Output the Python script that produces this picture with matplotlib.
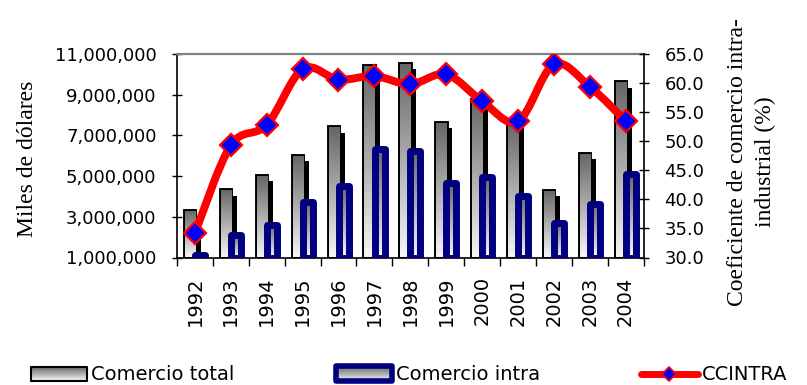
import numpy as np
import matplotlib
matplotlib.use("Agg")
import matplotlib.pyplot as plt
import matplotlib.patheffects as pe
from matplotlib.patches import Rectangle, PathPatch
from matplotlib.path import Path
from matplotlib.lines import Line2D
from matplotlib.legend_handler import HandlerBase
from matplotlib.ticker import FuncFormatter

# Trade values (miles de dólares) and intra-industry trade coefficient (%)
years = ["1992", "1993", "1994", "1995", "1996", "1997", "1998",
         "1999", "2000", "2001", "2002", "2003", "2004"]
comercio_total = [3.30e6, 4.30e6, 5.00e6, 6.00e6, 7.40e6, 10.40e6, 10.50e6,
                  7.60e6, 8.75e6, 7.60e6, 4.26e6, 6.10e6, 9.60e6]
comercio_intra = [1.14e6, 2.10e6, 2.61e6, 3.74e6, 4.49e6, 6.33e6, 6.24e6,
                  4.65e6, 4.98e6, 4.03e6, 2.69e6, 3.62e6, 5.09e6]
ccintra = [34.2, 49.3, 52.8, 62.4, 60.6, 61.2, 59.8,
           61.5, 56.9, 53.4, 63.2, 59.4, 53.5]

Y_MIN, Y_MAX, Y_STEP = 1_000_000, 11_000_000, 2_000_000
P_MIN, P_MAX, P_STEP = 30.0, 65.0, 5.0

NAVY = "#000080"
RED = "#FF0000"
BLUE = "#0000FF"
SERIF = "Liberation Serif"

plt.rcParams.update({"font.family": "DejaVu Sans", "font.size": 13})

# vertical grey ramp used inside the bars (row 0 = top, darkest)
GRAD = np.linspace(0.40, 0.96, 64)[:, None]


def gradient_fill(ax, bars, zorder):
    for b in bars:
        x, y = b.get_xy()
        w, h = b.get_width(), b.get_height()
        im = ax.imshow(GRAD, extent=(x, x + w, y, y + h), cmap="gray",
                       vmin=0, vmax=1, aspect="auto",
                       interpolation="bilinear", zorder=zorder)
        im.set_clip_path(b)


def smooth_path(xs, ys):
    # Catmull-Rom through the points, written as cubic Bezier segments
    pts = np.column_stack([xs, ys]).astype(float)
    n = len(pts)
    verts, codes = [pts[0]], [Path.MOVETO]
    for i in range(n - 1):
        p0, p1 = pts[max(i - 1, 0)], pts[i]
        p2, p3 = pts[i + 1], pts[min(i + 2, n - 1)]
        verts += [p1 + (p2 - p0) / 6, p2 - (p3 - p1) / 6, p2]
        codes += [Path.CURVE4] * 3
    return Path(verts, codes)


class GradientBox(HandlerBase):
    def __init__(self, edgecolor, linewidth, grow=0.0):
        super().__init__()
        self.edgecolor = edgecolor
        self.linewidth = linewidth
        self.grow = grow

    def create_artists(self, legend, orig_handle, xdescent, ydescent,
                       width, height, fontsize, trans):
        x0, y0 = -xdescent, -ydescent - self.grow
        h = height + 2 * self.grow
        n = len(GRAD)
        arts = []
        for i, g in enumerate(GRAD[:, 0]):
            arts.append(Rectangle((x0, y0 + h * (n - 1 - i) / n), width,
                                  h / n * 1.05, facecolor=(g, g, g),
                                  edgecolor="none", antialiased=False,
                                  transform=trans))
        arts.append(Rectangle((x0, y0), width, h, facecolor="none",
                              edgecolor=self.edgecolor, lw=self.linewidth,
                              joinstyle="round", transform=trans))
        return arts


fig = plt.figure(figsize=(8.07, 3.85), dpi=100)
ax = fig.add_axes([177 / 807, 127.5 / 385, 466.5 / 807, 203.5 / 385])

x = np.arange(len(years))
total_h = np.array(comercio_total) - Y_MIN
intra_h = np.array(comercio_intra) - Y_MIN

shadow = [pe.SimplePatchShadow(offset=(4.0, -3.8), shadow_rgbFace="black",
                               alpha=1.0), pe.Normal()]
bars_total = ax.bar(x - 0.13, total_h, 0.29, bottom=Y_MIN, facecolor="none",
                    edgecolor="black", linewidth=2.8, zorder=2,
                    path_effects=shadow)
gradient_fill(ax, bars_total, 2.05)

bars_intra = ax.bar(x + 0.145, intra_h, 0.28, bottom=Y_MIN, facecolor="none",
                    edgecolor=NAVY, linewidth=5, joinstyle="round", zorder=3.1)
gradient_fill(ax, bars_intra, 3.05)

ax.set_xlim(-0.5, len(years) - 0.5)
ax.set_ylim(Y_MIN, Y_MAX)
ax.set_xticks(x)
ax.set_xticklabels(years, rotation=90)
ax.set_xticks(np.arange(-0.5, len(years), 1.0), minor=True)
ax.tick_params(axis="x", which="major", length=0, pad=13.5, labelsize=14)
ax.tick_params(axis="x", which="minor", length=5.5, width=1.0,
               direction="out")
ax.set_yticks(np.arange(Y_MIN, Y_MAX + 1, Y_STEP))
ax.yaxis.set_major_formatter(FuncFormatter(lambda v, _: f"{v:,.0f}"))
ax.tick_params(axis="y", direction="inout", length=6.5, width=1.0, pad=11.5,
               labelsize=13)
ax.set_ylabel("Miles de dólares", family=SERIF, fontsize=17)
ax.yaxis.set_label_coords((38 - 177) / 466.5, 0.484)

for side in ("left", "bottom"):
    ax.spines[side].set_linewidth(1.2)
ax.spines["top"].set_color("#808080")
ax.spines["top"].set_linewidth(1.6)
ax.spines["right"].set_visible(False)

# intra-industry coefficient on the secondary axis
ax2 = ax.twinx()
ax2.set_ylim(P_MIN, P_MAX)
ax2.add_patch(PathPatch(smooth_path(x, ccintra), facecolor="none",
                        edgecolor=RED, linewidth=5.7, capstyle="round",
                        joinstyle="round", zorder=4))
ax2.plot(x, ccintra, linestyle="none", marker="D", markersize=11.5,
         markerfacecolor=BLUE, markeredgecolor=RED, markeredgewidth=1.6,
         zorder=5)
ax2.set_yticks(np.arange(P_MIN, P_MAX + 0.1, P_STEP))
ax2.yaxis.set_major_formatter(FuncFormatter(lambda v, _: f"{v:.1f}"))
ax2.tick_params(axis="y", direction="inout", length=7, width=1.0, pad=11.5,
                labelsize=13)
ax2.set_ylabel("Coeficiente de comercio intra-\nindustrial (%)", family=SERIF,
               fontsize=17, linespacing=1.4)
ax2.yaxis.set_label_coords((727 - 177) / 466.5, 0.47)
for side in ("top", "left", "bottom"):
    ax2.spines[side].set_visible(False)
ax2.spines["right"].set_linewidth(1.2)

h_total = Rectangle((0, 0), 1, 1)
h_intra = Rectangle((0, 0), 1, 1)
h_line = Line2D([0], [0], color=RED, linewidth=5, solid_capstyle="round",
                marker="D", markersize=7.5, markerfacecolor=BLUE,
                markeredgecolor=RED, markeredgewidth=1.2)
fig.legend([h_total, h_intra, h_line],
           ["Comercio total", "Comercio intra", "CCINTRA"],
           handler_map={h_total: GradientBox("black", 1.5),
                        h_intra: GradientBox(NAVY, 4.0, grow=0.5)},
           ncol=3, loc="center left", bbox_to_anchor=(31 / 807, 1 - 375 / 385),
           frameon=False, fontsize=14, numpoints=1, handlelength=2.9,
           handletextpad=0.2, columnspacing=5.2, borderpad=0,
           borderaxespad=0)

fig.savefig("out.png", dpi=100)
